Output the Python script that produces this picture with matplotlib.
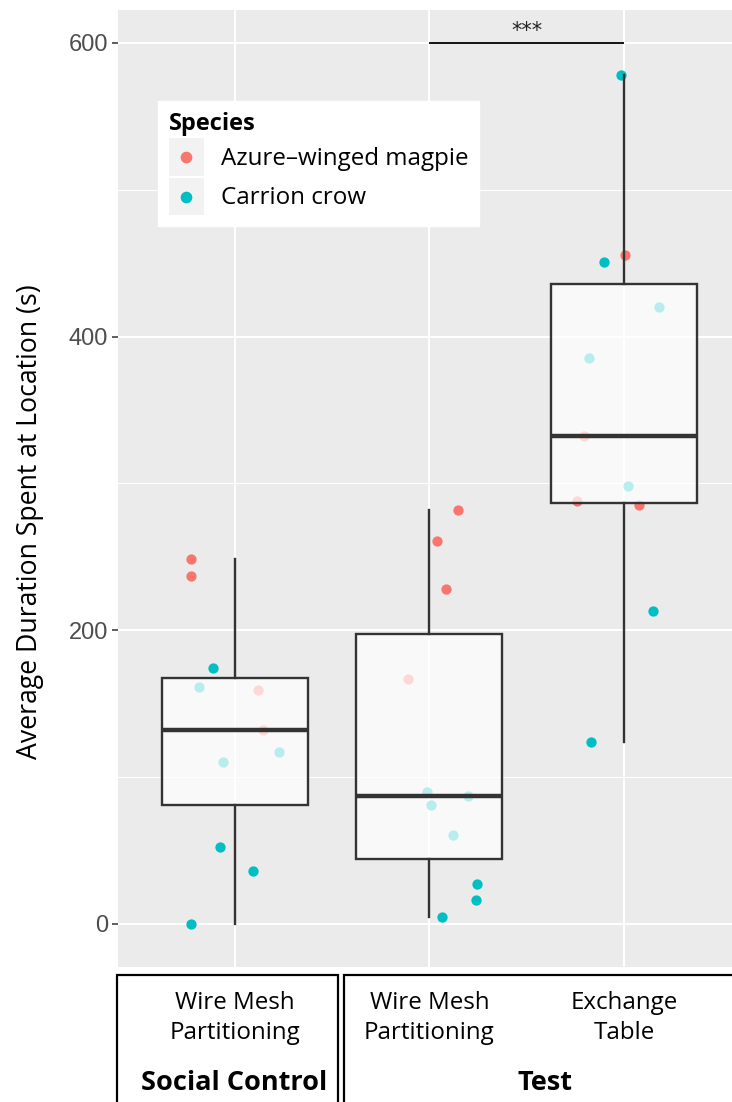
import matplotlib
matplotlib.use("Agg")
import matplotlib.pyplot as plt
import numpy as np
from matplotlib.patches import Rectangle
from matplotlib.lines import Line2D
from matplotlib.legend_handler import HandlerBase

# ---------------- data ----------------
locations = ["Wire Mesh\nPartitioning", "Wire Mesh\nPartitioning", "Exchange\nTable"]
conditions = ["Social Control", "Test"]
species = ["Azure\u2013winged magpie", "Carrion crow"]
colors = ["#F8766D", "#00BFC4"]

# values (s) per group and species
sc_magpie = [248.3, 236.9, 159.2, 132.4]
sc_crow = [174.4, 161.2, 117.0, 110.2, 52.4, 36.1, 0.0]
tw_magpie = [281.6, 260.7, 227.9, 166.9]
tw_crow = [90.0, 87.1, 81.0, 60.5, 27.4, 16.5, 4.8]
ex_magpie = [455.3, 332.2, 287.8, 285.0]
ex_crow = [578.3, 451.0, 420.1, 385.4, 298.0, 213.1, 124.0]

# horizontal jitter (category units)
sc_magpie_jit = [-0.226, -0.226, 0.120, 0.147]
sc_crow_jit = [-0.112, -0.185, 0.226, -0.060, -0.076, 0.096, -0.225]
tw_magpie_jit = [0.148, 0.041, 0.087, -0.111]
tw_crow_jit = [-0.012, 0.197, 0.010, 0.122, 0.244, 0.239, 0.065]
ex_magpie_jit = [0.005, -0.204, -0.240, 0.076]
ex_crow_jit = [-0.017, -0.104, 0.181, -0.178, 0.022, 0.149, -0.170]

y_ticks = [0, 200, 400, 600]
y_minor = [100, 300, 500]
sig_y = 600
sig_label = "***"

# ---------------- figure ----------------
W, H = 732, 1102
fig = plt.figure(figsize=(W / 100, H / 100), dpi=100)
fig.patch.set_facecolor("white")

main_font = ["Open Sans", "DejaVu Sans"]
num_font = ["Liberation Sans", "DejaVu Sans"]

pl, pr, pt, pb = 118, 732, 10, 967
ax = fig.add_axes([pl / W, 1 - pb / H, (pr - pl) / W, (pb - pt) / H])
ax.set_facecolor("#EBEBEB")
for s in ax.spines.values():
    s.set_visible(False)

positions = [1, 2, 3]
groups_m = [sc_magpie, tw_magpie, ex_magpie]
groups_c = [sc_crow, tw_crow, ex_crow]
jit_m = [sc_magpie_jit, tw_magpie_jit, ex_magpie_jit]
jit_c = [sc_crow_jit, tw_crow_jit, ex_crow_jit]

for p, vm, vc, jm, jc in zip(positions, groups_m, groups_c, jit_m, jit_c):
    ax.scatter(p + np.array(jm), vm, s=55, color=colors[0], linewidths=0, zorder=2)
    ax.scatter(p + np.array(jc), vc, s=55, color=colors[1], linewidths=0, zorder=2)

all_groups = [np.array(m + c) for m, c in zip(groups_m, groups_c)]
bp = ax.boxplot(all_groups, positions=positions, widths=0.75, patch_artist=True,
                showcaps=False, showfliers=False, whis=1.5, zorder=3,
                boxprops=dict(facecolor=(1, 1, 1, 0.72), edgecolor="#333333", linewidth=1.7),
                whiskerprops=dict(color="#333333", linewidth=1.7),
                medianprops=dict(color="#333333", linewidth=3.2))

# significance bar
ax.plot([2, 3], [sig_y, sig_y], color="black", lw=1.3, zorder=4, solid_capstyle="butt")
ax.text(2.5, sig_y + 1.5, sig_label, ha="center", va="bottom", fontsize=15,
        family=["DejaVu Sans"], color="#222222")

ax.set_xlim(0.40, 3.555)
ax.set_ylim(-29.3, 622.4)
ax.set_yticks(y_ticks)
ax.set_yticks(y_minor, minor=True)
ax.set_yticklabels([str(t) for t in y_ticks], family=num_font, fontsize=17, color="#4D4D4D")
ax.set_xticks(positions)
ax.set_xticklabels(locations, family=main_font, fontsize=17.4, color="black", linespacing=1.35)
ax.tick_params(axis="x", length=0, pad=17)
ax.tick_params(axis="y", which="major", length=4, width=1.1, color="#333333", pad=3)
ax.tick_params(axis="y", which="minor", length=0)
ax.grid(True, which="major", color="white", lw=1.5)
ax.grid(True, which="minor", axis="y", color="white", lw=0.75)
ax.set_axisbelow(True)

# y label
fig.text(30 / W, 1 - 522 / H, "Average Duration Spent at Location (s)", rotation=90,
         ha="center", va="center", family=main_font, fontsize=19.2, color="black")

# legend with grey key background
class KeyHandler(HandlerBase):
    def create_artists(self, legend, orig_handle, xdescent, ydescent, width, height, fontsize, trans):
        rect = Rectangle((-xdescent, -ydescent), width, height, facecolor="#F2F2F2",
                         edgecolor="none", transform=trans)
        dot = Line2D([width / 2 - xdescent], [height / 2 - ydescent], marker="o", ms=7.4,
                     color=orig_handle.get_color(), ls="none", transform=trans)
        return [rect, dot]

handles = [Line2D([], [], color=c) for c in colors]
leg = fig.legend(handles, species, loc="upper left",
                 bbox_to_anchor=(158 / W, 1 - 101 / H), bbox_transform=fig.transFigure,
                 handler_map={Line2D: KeyHandler()}, title="Species",
                 prop=dict(family=main_font, size=17.4),
                 title_fontproperties=dict(family=main_font, size=17, weight="bold"),
                 alignment="left", frameon=True, fancybox=False, framealpha=1,
                 edgecolor="white", facecolor="white", borderaxespad=0,
                 handlelength=1.45, handleheight=2.0, handletextpad=0.7,
                 labelspacing=0.1, borderpad=0.45)

# bottom condition boxes
fig.add_artist(Rectangle((117 / W, -0.05), (338 - 117) / W, (1 - 975 / H) + 0.05,
                         transform=fig.transFigure, facecolor="none", edgecolor="black", lw=1.6))
fig.add_artist(Rectangle((344 / W, -0.05), 1.0, (1 - 975 / H) + 0.05,
                         transform=fig.transFigure, facecolor="none", edgecolor="black", lw=1.6))
fig.text(234 / W, 1 - 1083 / H, conditions[0], ha="center", va="center",
         family=main_font, fontsize=19.5, weight="bold")
fig.text(544.5 / W, 1 - 1083 / H, conditions[1], ha="center", va="center",
         family=main_font, fontsize=19.5, weight="bold")

fig.savefig("out.png", dpi=100)
